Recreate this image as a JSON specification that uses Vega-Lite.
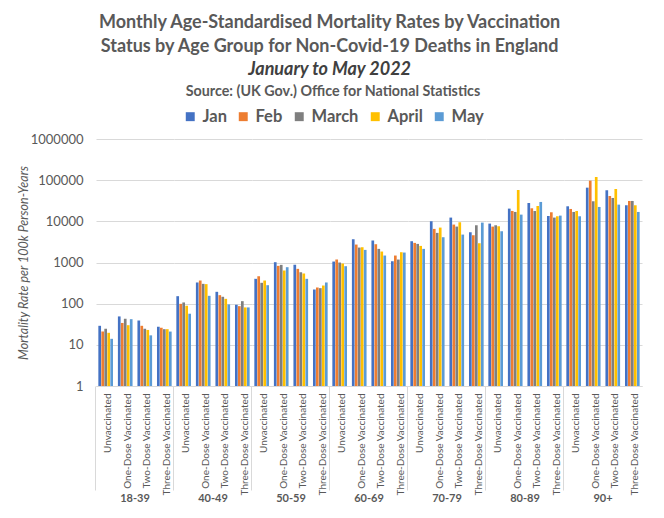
{
  "$schema": "https://vega.github.io/schema/vega-lite/v6.json",
  "background": "white",
  "padding": {"left": 17, "top": 14, "right": 8, "bottom": 4},
  "title": {
    "text": ["Monthly Age-Standardised Mortality Rates by Vaccination", "Status by Age Group for Non-Covid-19 Deaths in England"],
    "subtitle": "January to May 2022",
    "anchor": "middle",
    "font": "Lato",
    "fontSize": 18,
    "fontWeight": "bold",
    "color": "#595959",
    "lineHeight": 24,
    "subtitleFont": "Lato",
    "subtitleFontSize": 18,
    "subtitleFontStyle": "italic",
    "subtitleFontWeight": "bold",
    "subtitleColor": "#404040",
    "subtitlePadding": 5,
    "offset": 6
  },
  "data": {"values": [
    {"age":"18-39","status":"Unvaccinated","month":"Jan","rate":29},
    {"age":"18-39","status":"Unvaccinated","month":"Feb","rate":21},
    {"age":"18-39","status":"Unvaccinated","month":"March","rate":24.6},
    {"age":"18-39","status":"Unvaccinated","month":"April","rate":19.6},
    {"age":"18-39","status":"Unvaccinated","month":"May","rate":14},
    {"age":"18-39","status":"One-Dose Vaccinated","month":"Jan","rate":49},
    {"age":"18-39","status":"One-Dose Vaccinated","month":"Feb","rate":34},
    {"age":"18-39","status":"One-Dose Vaccinated","month":"March","rate":43},
    {"age":"18-39","status":"One-Dose Vaccinated","month":"April","rate":30},
    {"age":"18-39","status":"One-Dose Vaccinated","month":"May","rate":42},
    {"age":"18-39","status":"Two-Dose Vaccinated","month":"Jan","rate":39},
    {"age":"18-39","status":"Two-Dose Vaccinated","month":"Feb","rate":29},
    {"age":"18-39","status":"Two-Dose Vaccinated","month":"March","rate":24.6},
    {"age":"18-39","status":"Two-Dose Vaccinated","month":"April","rate":23},
    {"age":"18-39","status":"Two-Dose Vaccinated","month":"May","rate":17},
    {"age":"18-39","status":"Three-Dose Vaccinated","month":"Jan","rate":27.5},
    {"age":"18-39","status":"Three-Dose Vaccinated","month":"Feb","rate":26},
    {"age":"18-39","status":"Three-Dose Vaccinated","month":"March","rate":24},
    {"age":"18-39","status":"Three-Dose Vaccinated","month":"April","rate":24},
    {"age":"18-39","status":"Three-Dose Vaccinated","month":"May","rate":21},
    {"age":"40-49","status":"Unvaccinated","month":"Jan","rate":152},
    {"age":"40-49","status":"Unvaccinated","month":"Feb","rate":99},
    {"age":"40-49","status":"Unvaccinated","month":"March","rate":107},
    {"age":"40-49","status":"Unvaccinated","month":"April","rate":89},
    {"age":"40-49","status":"Unvaccinated","month":"May","rate":57},
    {"age":"40-49","status":"One-Dose Vaccinated","month":"Jan","rate":327},
    {"age":"40-49","status":"One-Dose Vaccinated","month":"Feb","rate":365},
    {"age":"40-49","status":"One-Dose Vaccinated","month":"March","rate":303},
    {"age":"40-49","status":"One-Dose Vaccinated","month":"April","rate":298},
    {"age":"40-49","status":"One-Dose Vaccinated","month":"May","rate":155},
    {"age":"40-49","status":"Two-Dose Vaccinated","month":"Jan","rate":194},
    {"age":"40-49","status":"Two-Dose Vaccinated","month":"Feb","rate":161},
    {"age":"40-49","status":"Two-Dose Vaccinated","month":"March","rate":147},
    {"age":"40-49","status":"Two-Dose Vaccinated","month":"April","rate":131},
    {"age":"40-49","status":"Two-Dose Vaccinated","month":"May","rate":96},
    {"age":"40-49","status":"Three-Dose Vaccinated","month":"Jan","rate":94},
    {"age":"40-49","status":"Three-Dose Vaccinated","month":"Feb","rate":87},
    {"age":"40-49","status":"Three-Dose Vaccinated","month":"March","rate":115},
    {"age":"40-49","status":"Three-Dose Vaccinated","month":"April","rate":81},
    {"age":"40-49","status":"Three-Dose Vaccinated","month":"May","rate":81},
    {"age":"50-59","status":"Unvaccinated","month":"Jan","rate":401},
    {"age":"50-59","status":"Unvaccinated","month":"Feb","rate":465},
    {"age":"50-59","status":"Unvaccinated","month":"March","rate":321},
    {"age":"50-59","status":"Unvaccinated","month":"April","rate":365},
    {"age":"50-59","status":"Unvaccinated","month":"May","rate":281},
    {"age":"50-59","status":"One-Dose Vaccinated","month":"Jan","rate":1017},
    {"age":"50-59","status":"One-Dose Vaccinated","month":"Feb","rate":829},
    {"age":"50-59","status":"One-Dose Vaccinated","month":"March","rate":876},
    {"age":"50-59","status":"One-Dose Vaccinated","month":"April","rate":639},
    {"age":"50-59","status":"One-Dose Vaccinated","month":"May","rate":769},
    {"age":"50-59","status":"Two-Dose Vaccinated","month":"Jan","rate":876},
    {"age":"50-59","status":"Two-Dose Vaccinated","month":"Feb","rate":701},
    {"age":"50-59","status":"Two-Dose Vaccinated","month":"March","rate":582},
    {"age":"50-59","status":"Two-Dose Vaccinated","month":"April","rate":540},
    {"age":"50-59","status":"Two-Dose Vaccinated","month":"May","rate":401},
    {"age":"50-59","status":"Three-Dose Vaccinated","month":"Jan","rate":221},
    {"age":"50-59","status":"Three-Dose Vaccinated","month":"Feb","rate":247},
    {"age":"50-59","status":"Three-Dose Vaccinated","month":"March","rate":238},
    {"age":"50-59","status":"Three-Dose Vaccinated","month":"April","rate":276},
    {"age":"50-59","status":"Three-Dose Vaccinated","month":"May","rate":327},
    {"age":"60-69","status":"Unvaccinated","month":"Jan","rate":1055},
    {"age":"60-69","status":"Unvaccinated","month":"Feb","rate":1180},
    {"age":"60-69","status":"Unvaccinated","month":"March","rate":998},
    {"age":"60-69","status":"Unvaccinated","month":"April","rate":944},
    {"age":"60-69","status":"Unvaccinated","month":"May","rate":813},
    {"age":"60-69","status":"One-Dose Vaccinated","month":"Jan","rate":3673},
    {"age":"60-69","status":"One-Dose Vaccinated","month":"Feb","rate":2728},
    {"age":"60-69","status":"One-Dose Vaccinated","month":"March","rate":2306},
    {"age":"60-69","status":"One-Dose Vaccinated","month":"April","rate":2350},
    {"age":"60-69","status":"One-Dose Vaccinated","month":"May","rate":2024},
    {"age":"60-69","status":"Two-Dose Vaccinated","month":"Jan","rate":3412},
    {"age":"60-69","status":"Two-Dose Vaccinated","month":"Feb","rate":2780},
    {"age":"60-69","status":"Two-Dose Vaccinated","month":"March","rate":2142},
    {"age":"60-69","status":"Two-Dose Vaccinated","month":"April","rate":1846},
    {"age":"60-69","status":"Two-Dose Vaccinated","month":"May","rate":1476},
    {"age":"60-69","status":"Three-Dose Vaccinated","month":"Jan","rate":1076},
    {"age":"60-69","status":"Three-Dose Vaccinated","month":"Feb","rate":1476},
    {"age":"60-69","status":"Three-Dose Vaccinated","month":"March","rate":1180},
    {"age":"60-69","status":"Three-Dose Vaccinated","month":"April","rate":1778},
    {"age":"60-69","status":"Three-Dose Vaccinated","month":"May","rate":1745},
    {"age":"70-79","status":"Unvaccinated","month":"Jan","rate":3288},
    {"age":"70-79","status":"Unvaccinated","month":"Feb","rate":2995},
    {"age":"70-79","status":"Unvaccinated","month":"March","rate":2831},
    {"age":"70-79","status":"Unvaccinated","month":"April","rate":2531},
    {"age":"70-79","status":"Unvaccinated","month":"May","rate":2142},
    {"age":"70-79","status":"One-Dose Vaccinated","month":"Jan","rate":10040},
    {"age":"70-79","status":"One-Dose Vaccinated","month":"Feb","rate":6546},
    {"age":"70-79","status":"One-Dose Vaccinated","month":"March","rate":5236},
    {"age":"70-79","status":"One-Dose Vaccinated","month":"April","rate":7048},
    {"age":"70-79","status":"One-Dose Vaccinated","month":"May","rate":4110},
    {"age":"70-79","status":"Two-Dose Vaccinated","month":"Jan","rate":12330},
    {"age":"70-79","status":"Two-Dose Vaccinated","month":"Feb","rate":8336},
    {"age":"70-79","status":"Two-Dose Vaccinated","month":"March","rate":7452},
    {"age":"70-79","status":"Two-Dose Vaccinated","month":"April","rate":9490},
    {"age":"70-79","status":"Two-Dose Vaccinated","month":"May","rate":4766},
    {"age":"70-79","status":"Three-Dose Vaccinated","month":"Jan","rate":5430},
    {"age":"70-79","status":"Three-Dose Vaccinated","month":"Feb","rate":4592},
    {"age":"70-79","status":"Three-Dose Vaccinated","month":"March","rate":8030},
    {"age":"70-79","status":"Three-Dose Vaccinated","month":"April","rate":2938},
    {"age":"70-79","status":"Three-Dose Vaccinated","month":"May","rate":9316},
    {"age":"80-89","status":"Unvaccinated","month":"Jan","rate":8810},
    {"age":"80-89","status":"Unvaccinated","month":"Feb","rate":7452},
    {"age":"80-89","status":"Unvaccinated","month":"March","rate":8030},
    {"age":"80-89","status":"Unvaccinated","month":"April","rate":7590},
    {"age":"80-89","status":"Unvaccinated","month":"May","rate":5744},
    {"age":"80-89","status":"One-Dose Vaccinated","month":"Jan","rate":20370},
    {"age":"80-89","status":"One-Dose Vaccinated","month":"Feb","rate":17870},
    {"age":"80-89","status":"One-Dose Vaccinated","month":"March","rate":16900},
    {"age":"80-89","status":"One-Dose Vaccinated","month":"April","rate":57770},
    {"age":"80-89","status":"One-Dose Vaccinated","month":"May","rate":14560},
    {"age":"80-89","status":"Two-Dose Vaccinated","month":"Jan","rate":27940},
    {"age":"80-89","status":"Two-Dose Vaccinated","month":"Feb","rate":20750},
    {"age":"80-89","status":"Two-Dose Vaccinated","month":"March","rate":17870},
    {"age":"80-89","status":"Two-Dose Vaccinated","month":"April","rate":23640},
    {"age":"80-89","status":"Two-Dose Vaccinated","month":"May","rate":29570},
    {"age":"80-89","status":"Three-Dose Vaccinated","month":"Jan","rate":13520},
    {"age":"80-89","status":"Three-Dose Vaccinated","month":"Feb","rate":16600},
    {"age":"80-89","status":"Three-Dose Vaccinated","month":"March","rate":12330},
    {"age":"80-89","status":"Three-Dose Vaccinated","month":"April","rate":13270},
    {"age":"80-89","status":"Three-Dose Vaccinated","month":"May","rate":13770},
    {"age":"90+","status":"Unvaccinated","month":"Jan","rate":23190},
    {"age":"90+","status":"Unvaccinated","month":"Feb","rate":19990},
    {"age":"90+","status":"Unvaccinated","month":"March","rate":16900},
    {"age":"90+","status":"Unvaccinated","month":"April","rate":17870},
    {"age":"90+","status":"Unvaccinated","month":"May","rate":13270},
    {"age":"90+","status":"One-Dose Vaccinated","month":"Jan","rate":65780},
    {"age":"90+","status":"One-Dose Vaccinated","month":"Feb","rate":97240},
    {"age":"90+","status":"One-Dose Vaccinated","month":"March","rate":30690},
    {"age":"90+","status":"One-Dose Vaccinated","month":"April","rate":119400},
    {"age":"90+","status":"One-Dose Vaccinated","month":"May","rate":22350},
    {"age":"90+","status":"Two-Dose Vaccinated","month":"Jan","rate":56630},
    {"age":"90+","status":"Two-Dose Vaccinated","month":"Feb","rate":41300},
    {"age":"90+","status":"Two-Dose Vaccinated","month":"March","rate":36950},
    {"age":"90+","status":"Two-Dose Vaccinated","month":"April","rate":61080},
    {"age":"90+","status":"Two-Dose Vaccinated","month":"May","rate":25460},
    {"age":"90+","status":"Three-Dose Vaccinated","month":"Jan","rate":24550},
    {"age":"90+","status":"Three-Dose Vaccinated","month":"Feb","rate":31250},
    {"age":"90+","status":"Three-Dose Vaccinated","month":"March","rate":31250},
    {"age":"90+","status":"Three-Dose Vaccinated","month":"April","rate":24550},
    {"age":"90+","status":"Three-Dose Vaccinated","month":"May","rate":16900}
  ]},
  "facet": {
    "column": {
      "field": "age",
      "type": "nominal",
      "sort": ["18-39", "40-49", "50-59", "60-69", "70-79", "80-89", "90+"],
      "header": {
        "title": null,
        "labelOrient": "bottom",
        "labelFont": "Lato",
        "labelFontSize": 11,
        "labelFontWeight": "bold",
        "labelColor": "#595959",
        "labelPadding": -2
      }
    }
  },
  "spacing": 0,
  "spec": {
    "width": 78,
    "height": 247,
    "mark": {"type": "bar"},
    "encoding": {
      "x": {
        "field": "status",
        "type": "nominal",
        "sort": ["Unvaccinated", "One-Dose Vaccinated", "Two-Dose Vaccinated", "Three-Dose Vaccinated"],
        "scale": {"paddingInner": 0.25, "paddingOuter": 0.12},
        "axis": {
          "title": null,
          "labelAngle": -90,
          "labelFont": "Lato",
          "labelFontSize": 10,
          "labelColor": "#595959",
          "labelLimit": 200,
          "domainColor": "#d9d9d9",
          "ticks": true,
          "bandPosition": -0.16,
          "labelOffset": 2.5,
          "tickColor": "#d9d9d9",
          "tickSize": 104,
          "labelPadding": -97,
          "tickOpacity": {"condition": {"test": "datum.value === 'Unvaccinated'", "value": 1}, "value": 0},
          "grid": false
        }
      },
      "xOffset": {
        "field": "month",
        "type": "nominal",
        "sort": ["Jan", "Feb", "March", "April", "May"],
        "scale": {"paddingInner": 0.1}
      },
      "y": {
        "field": "rate",
        "type": "quantitative",
        "stack": null,
        "scale": {"type": "log", "domain": [1, 1000000]},
        "axis": {
          "title": "Mortality Rate per 100k Person-Years",
          "titleFont": "Lato",
          "titleFontSize": 12.5,
          "titleFontStyle": "italic",
          "titleFontWeight": "normal",
          "titleColor": "#595959",
          "titlePadding": 0,
          "values": [1, 10, 100, 1000, 10000, 100000, 1000000],
          "format": "d",
          "labelFont": "Lato",
          "labelFontSize": 13,
          "labelColor": "#595959",
          "labelPadding": 13,
          "domain": false,
          "ticks": false,
          "gridColor": "#d9d9d9"
        }
      },
      "y2": {"datum": 1},
      "color": {
        "field": "month",
        "type": "nominal",
        "sort": ["Jan", "Feb", "March", "April", "May"],
        "scale": {
          "domain": ["Jan", "Feb", "March", "April", "May"],
          "range": ["#4472C4", "#ED7D31", "#7F7F7F", "#FFC000", "#5B9BD5"]
        },
        "legend": {
          "orient": "none",
          "legendX": 86,
          "legendY": -54,
          "direction": "horizontal",
          "title": "Source: (UK Gov.) Office for National Statistics",
          "titleLimit": 600,
          "titleFont": "Lato",
          "titleFontSize": 14.3,
          "titleFontWeight": "bold",
          "titleColor": "#595959",
          "titleAnchor": "middle",
          "titlePadding": 9,
          "labelFont": "Lato",
          "labelFontSize": 16.5,
          "labelFontWeight": "bold",
          "labelColor": "#595959",
          "symbolType": "square",
          "symbolSize": 80,
          "symbolStrokeWidth": 0,
          "columnPadding": 8,
          "labelOffset": 4
        }
      }
    }
  },
  "config": {
    "view": {"stroke": null}
  }
}
